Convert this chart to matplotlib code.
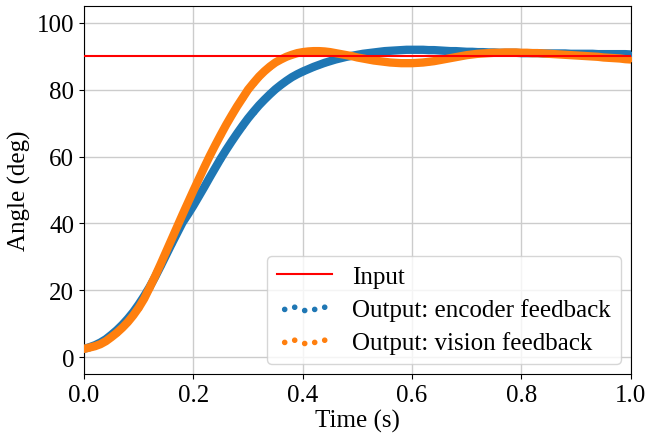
import numpy as np
import matplotlib.pyplot as plt

plt.rcParams['font.family'] = ['Liberation Serif', 'DejaVu Serif']
plt.rcParams['font.size'] = 18

# time stamps (s), one every 10 ms
time = np.round(np.arange(0, 101) * 0.01, 2)

input_angle = 90.0

# output angle with encoder feedback (deg)
encoder = [
    2.5, 3.0, 3.6, 4.4, 5.4, 6.7, 8.1, 9.7, 11.5, 13.5,
    15.8, 18.3, 21.0, 24.0, 27.2, 30.5, 33.8, 37.0, 40.2, 42.7,
    45.3, 48.1, 50.9, 53.8, 56.6, 59.4, 62.0, 64.5, 66.9, 69.2,
    71.4, 73.4, 75.3, 77.0, 78.6, 80.1, 81.4, 82.6, 83.7, 84.6,
    85.4, 86.1, 86.8, 87.4, 88.0, 88.5, 89.0, 89.4, 89.8, 90.1,
    90.4, 90.7, 90.9, 91.1, 91.3, 91.5, 91.6, 91.7, 91.8, 91.9,
    91.9, 91.9, 91.9, 91.8, 91.8, 91.7, 91.6, 91.5, 91.5, 91.4,
    91.3, 91.3, 91.2, 91.2, 91.1, 91.1, 91.0, 91.0, 91.0, 91.0,
    90.9, 90.9, 90.9, 90.9, 90.8, 90.8, 90.8, 90.8, 90.8, 90.7,
    90.7, 90.7, 90.7, 90.7, 90.6, 90.6, 90.6, 90.6, 90.6, 90.6,
    90.5,
]

# output angle with vision feedback (deg)
vision = [
    2.5, 2.9, 3.3, 3.9, 4.8, 6.0, 7.3, 8.8, 10.5, 12.5,
    14.8, 17.5, 20.8, 24.2, 27.8, 31.5, 35.2, 38.9, 42.6, 46.2,
    49.8, 53.3, 56.8, 60.2, 63.4, 66.5, 69.5, 72.3, 75.0, 77.5,
    80.0, 82.0, 83.9, 85.5, 86.9, 88.1, 89.0, 89.8, 90.4, 90.9,
    91.2, 91.4, 91.5, 91.5, 91.4, 91.2, 90.9, 90.6, 90.3, 90.0,
    89.6, 89.3, 89.0, 88.7, 88.5, 88.3, 88.1, 88.0, 87.9, 87.9,
    87.9, 88.0, 88.1, 88.3, 88.5, 88.8, 89.1, 89.4, 89.7, 90.0,
    90.3, 90.5, 90.7, 90.8, 90.9, 91.0, 91.0, 91.1, 91.1, 91.1,
    91.0, 91.0, 90.9, 90.9, 90.8, 90.7, 90.6, 90.5, 90.4, 90.3,
    90.2, 90.1, 90.0, 89.9, 89.8, 89.6, 89.5, 89.4, 89.3, 89.1,
    89.0,
]

blue = '#1f77b4'
orange = '#ff7f0e'

fig = plt.figure(figsize=(6.58, 4.35), dpi=100)
ax = fig.add_axes([0.1277, 0.138, 0.831, 0.846])

ax.axhline(input_angle, color='red', lw=1.5, label='Input', zorder=5)

# thick band of samples, plus the dots themselves
ax.plot(time, encoder, color=blue, lw=6, solid_capstyle='round', zorder=3)
ax.scatter(time, encoder, s=9, color=blue, label='Output: encoder feedback', zorder=3)
ax.plot(time, vision, color=orange, lw=6, solid_capstyle='round', zorder=4)
ax.scatter(time, vision, s=9, color=orange, label='Output: vision feedback', zorder=4)

ax.set_xlim(0, 1.0)
ax.set_ylim(-5, 105)
ax.set_xticks([0.0, 0.2, 0.4, 0.6, 0.8, 1.0])
ax.set_yticks([0, 20, 40, 60, 80, 100])
ax.grid(True, color='#cccccc', lw=1)
ax.set_axisbelow(True)
ax.set_xlabel('Time (s)', labelpad=2)
ax.set_ylabel('Angle (deg)')

ax.legend(loc='lower right', scatterpoints=5, handlelength=2.2,
          borderaxespad=0.4, labelspacing=0.4)

fig.savefig('out.png', dpi=100)
